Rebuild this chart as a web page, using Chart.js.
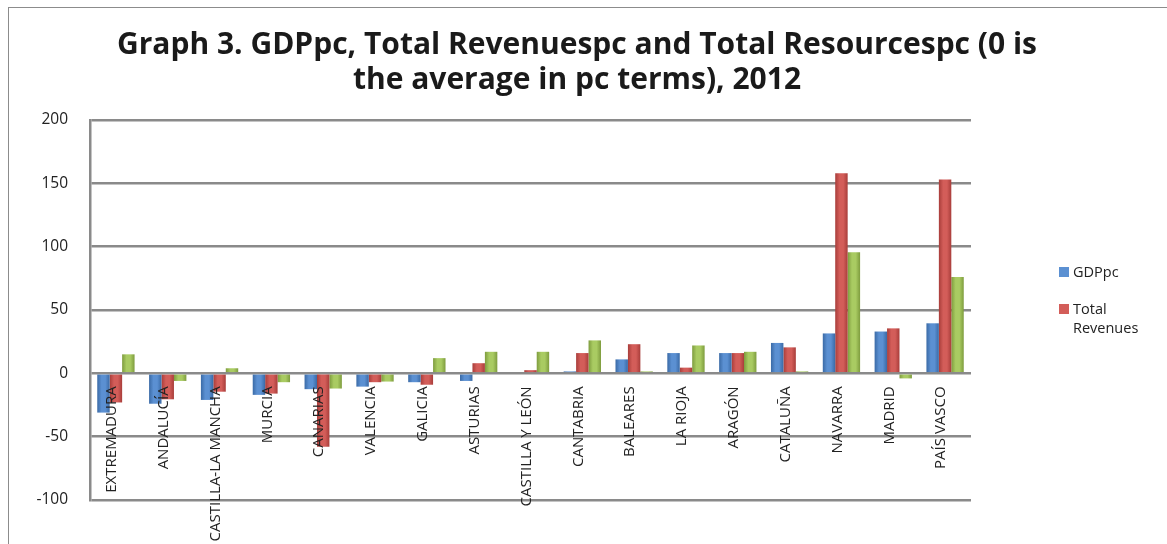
<!DOCTYPE html>
<html>
<head>
    <title>Graph 3</title>
    <style>
        body, html {
            margin: 0;
            padding: 0;
            width: 100%;
            height: 100%;
            overflow: hidden;
            background: #fff;
            font-family: "Open Sans", Arial, sans-serif;
        }
        #frame {
            position: absolute;
            left: 8px;
            top: 7px;
            width: 1300px;
            height: 700px;
            border: 1px solid #8c8c8c;
        }
        #wrap {
            position: absolute;
            left: 0;
            top: 0;
            width: 1167px;
            height: 544px;
        }
        #title {
            position: absolute;
            left: 77px;
            width: 1000px;
            top: 25px;
            text-align: center;
            font-size: 30px;
            font-weight: bold;
            line-height: 35px;
            color: #1a1a1a;
        }
        #legend {
            position: absolute;
            left: 1059px;
            top: 262px;
            font-size: 14.5px;
            color: #222;
            width: 100px;
        }
        .item {
            display: flex;
            align-items: flex-start;
            margin-bottom: 18px;
            line-height: 19px;
        }
        .box {
            width: 10px;
            height: 10px;
            margin-top: 5px;
            margin-right: 4px;
            flex: none;
        }
    </style>
</head>
<body>
    <div id="frame"></div>
    <div id="wrap"><canvas id="chart" width="1167" height="544"></canvas></div>
    <div id="title">Graph 3. GDPpc, Total Revenuespc and Total Resourcespc (0 is<br>the average in pc terms), 2012</div>
    <div id="legend"></div>

    <script src="https://cdn.jsdelivr.net/npm/chart.js"></script>
    <script>
        // regions, ordered by GDP per capita
        let regions = ['EXTREMADURA', 'ANDALUCÍA', 'CASTILLA-LA MANCHA', 'MURCIA', 'CANARIAS', 'VALENCIA',
            'GALICIA', 'ASTURIAS', 'CASTILLA Y LEÓN', 'CANTABRIA', 'BALEARES', 'LA RIOJA', 'ARAGÓN',
            'CATALUÑA', 'NAVARRA', 'MADRID', 'PAÍS VASCO'];
        // deviation from the average, pc terms (0 = average)
        let gdppc = [-31, -24, -21, -17, -12.5, -10.5, -7, -6, 1, 1.5, 11, 16, 16, 24, 31.5, 33, 39.5];
        let revenues = [-23, -20.5, -14.5, -16, -58, -7, -9, 8, 2.5, 16, 23, 4.5, 16, 20.5, 158, 35.5, 153];
        let resources = [15, -6, 4, -7, -12, -6.5, 12, 17, 17, 26, 1.5, 22, 17, 1.5, 95.5, -4, 76];
        let yTicks = [-100, -50, 0, 50, 100, 150, 200];

        let colors = [
            ['#3a6aa6', '#5b90d2'],
            ['#a83d3a', '#d35d59'],
            ['#7e9c3e', '#a9cb62']
        ];

        // horizontal shading so each bar looks a bit rounded
        function shade(i) {
            return function (ctx) {
                let flat = colors[i][1];
                let el = ctx.chart.getDatasetMeta(ctx.datasetIndex).data[ctx.dataIndex];
                if (!el || el.x === undefined || isNaN(el.x) || !el.width) return flat;
                let x0 = el.x - el.width / 2, x1 = el.x + el.width / 2;
                let g = ctx.chart.ctx.createLinearGradient(x0, 0, x1, 0);
                g.addColorStop(0, colors[i][0]);
                g.addColorStop(0.35, colors[i][1]);
                g.addColorStop(0.65, colors[i][1]);
                g.addColorStop(1, colors[i][0]);
                return g;
            };
        }

        // category names sit on the zero line, written upwards
        let zeroLabels = {
            id: 'zeroLabels',
            afterDatasetsDraw(chart) {
                let c = chart.ctx;
                let x = chart.scales.x, y = chart.scales.y;
                let y0 = y.getPixelForValue(0) + 13;
                c.save();
                c.font = '15px "Open Sans", Arial, sans-serif';
                c.fillStyle = '#222';
                c.textAlign = 'right';
                c.textBaseline = 'middle';
                regions.forEach((name, i) => {
                    c.save();
                    c.translate(x.getPixelForValue(i) - 4, y0);
                    c.rotate(-Math.PI / 2);
                    c.fillText(name, 0, 0);
                    c.restore();
                });
                c.restore();
            }
        };

        let chart = new Chart(document.getElementById('chart'), {
            type: 'bar',
            data: {
                labels: regions,
                datasets: [
                    { label: 'GDPpc', data: gdppc, backgroundColor: shade(0), borderWidth: 0 },
                    { label: 'Total Revenues', data: revenues, backgroundColor: shade(1), borderWidth: 0 },
                    { label: 'Total Resources', data: resources, backgroundColor: shade(2), borderWidth: 0 }
                ]
            },
            options: {
                responsive: false,
                animation: false,
                layout: { padding: { left: 0, right: 196, top: 120, bottom: 44 } },
                datasets: { bar: { categoryPercentage: 0.72, barPercentage: 1.0 } },
                scales: {
                    x: {
                        ticks: { display: false },
                        grid: { display: false },
                        border: { display: false },
                        afterFit: (s) => { s.height = 0; }
                    },
                    y: {
                        min: -100,
                        max: 200,
                        afterFit: (s) => { s.width = 90; },
                        afterBuildTicks: (s) => { s.ticks = yTicks.map(v => ({ value: v })); },
                        ticks: {
                            padding: 22,
                            color: '#222',
                            font: { family: '"Open Sans", Arial, sans-serif', size: 15.5 }
                        },
                        grid: { color: '#8a8a8a', lineWidth: 2.5, drawTicks: false },
                        border: { color: '#8a8a8a', width: 2.5 }
                    }
                },
                plugins: {
                    legend: { display: false },
                    tooltip: { enabled: false },
                    title: { display: false }
                }
            },
            plugins: [zeroLabels]
        });
        // second pass so the shading can use the laid-out bar positions
        chart.update();

        // legend on the right shows the first two series
        let legend = document.getElementById('legend');
        chart.data.datasets.slice(0, 2).forEach((ds, i) => {
            let item = document.createElement('div');
            item.className = 'item';
            item.innerHTML = '<span class="box" style="background:' + colors[i][1] + '"></span><span>' + ds.label + '</span>';
            legend.appendChild(item);
        });
    </script>
</body>
</html>
